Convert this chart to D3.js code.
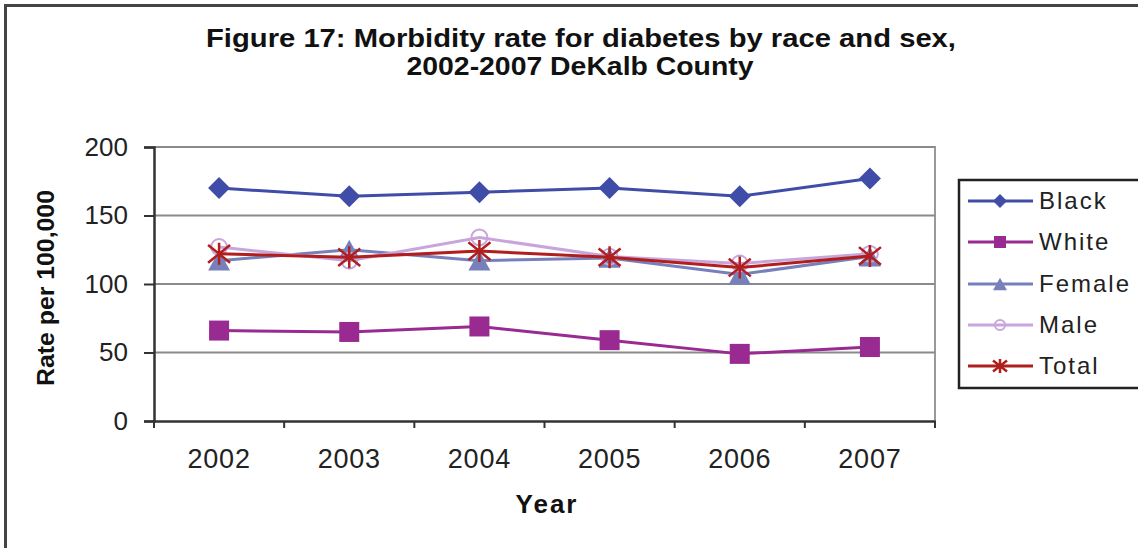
<!DOCTYPE html>
<html><head><meta charset="utf-8">
<script src="https://cdn.jsdelivr.net/npm/d3@7"></script>
<style>
html,body{margin:0;padding:0;background:#fff;}
svg{display:block;font-family:"Liberation Sans",Arial,sans-serif;}
</style></head>
<body>
<svg id="chart" width="1138" height="548"></svg>
<script>
const years = ["2002","2003","2004","2005","2006","2007"];
const black  = [170, 164, 167, 170, 164, 177];
const white  = [66, 65, 69, 59, 49, 54];
const female = [117, 125, 117, 119, 107, 120];
const male   = [127, 117, 134, 120, 115, 122];
const total  = [122, 119.5, 124, 119.5, 112, 120.5];
const yTicks = [0, 50, 100, 150, 200];
const titleLines = ["Figure 17: Morbidity rate for diabetes by race and sex,", "2002-2007 DeKalb County"];

const series = [
  {name:"Black",  values:black,  color:"#3f4ca8", marker:"diamond"},
  {name:"White",  values:white,  color:"#982a92", marker:"square"},
  {name:"Female", values:female, color:"#7880bb", marker:"triangle"},
  {name:"Male",   values:male,   color:"#c8a6dc", marker:"circle"},
  {name:"Total",  values:total,  color:"#b01e1e", marker:"star"}
];

const svg = d3.select("#chart");
const W = 1138, H = 548;

// outer border
svg.append("rect").attr("x",5.5).attr("y",5.5).attr("width",W+20).attr("height",H+20)
  .attr("fill","none").attr("stroke","#444").attr("stroke-width",3);

const plot = {l:154, r:935, t:147, b:421};
const x = d3.scaleBand().domain(years).range([plot.l, plot.r]);
const y = d3.scaleLinear().domain([0,200]).range([plot.b, plot.t]);

// plot area border (top & right)
svg.append("path")
  .attr("d", `M${plot.l},${plot.t}H${plot.r}V${plot.b}`)
  .attr("fill","none").attr("stroke","#999").attr("stroke-width",2);

// gridlines
svg.append("g").selectAll("line").data(yTicks.filter(d=>d>0)).join("line")
  .attr("x1",plot.l).attr("x2",plot.r)
  .attr("y1",d=>y(d)).attr("y2",d=>y(d))
  .attr("stroke","#8a8a8a").attr("stroke-width",2);

// y axis
const yAxis = svg.append("g").attr("transform",`translate(${plot.l},0)`)
  .call(d3.axisLeft(y).tickValues(yTicks).tickSize(10).tickPadding(16).tickFormat(d3.format("d")));
yAxis.select(".domain").attr("stroke","#333").attr("stroke-width",2.5);
yAxis.selectAll(".tick line").attr("stroke","#333").attr("stroke-width",2);
yAxis.selectAll("text").attr("font-size",26).attr("fill","#222")
  .attr("font-family","Liberation Sans, Arial, sans-serif");

// x axis
const xAxis = svg.append("g").attr("transform",`translate(0,${plot.b})`)
  .call(d3.axisBottom(x).tickSize(0).tickPadding(0));
xAxis.select(".domain").attr("stroke","#333").attr("stroke-width",2.5);
xAxis.selectAll("text").attr("font-size",27).attr("fill","#222").attr("letter-spacing",0.8)
  .attr("y",47).attr("dy",null)
  .attr("font-family","Liberation Sans, Arial, sans-serif");
// boundary ticks
const bounds = years.map(d=>x(d)).concat([plot.r]);
xAxis.append("g").selectAll("line").data(bounds).join("line")
  .attr("x1",d=>d).attr("x2",d=>d).attr("y1",0).attr("y2",7)
  .attr("stroke","#333").attr("stroke-width",2);

// axis titles
svg.append("text").attr("x",547).attr("y",513)
  .attr("text-anchor","middle").attr("font-size",26).attr("font-weight","bold")
  .attr("letter-spacing",2).attr("fill","#111").text("Year");
svg.append("text").attr("transform",`translate(54,288) rotate(-90)`)
  .attr("text-anchor","middle").attr("font-size",24).attr("font-weight","bold")
  .attr("fill","#111").attr("textLength",196).attr("lengthAdjust","spacingAndGlyphs").text("Rate per 100,000");

// title
svg.append("text").attr("x",581).attr("y",47).attr("text-anchor","middle")
  .attr("font-size",26).attr("font-weight","bold").attr("fill","#111")
  .attr("textLength",750).attr("lengthAdjust","spacingAndGlyphs").text(titleLines[0]);
svg.append("text").attr("x",580).attr("y",75).attr("text-anchor","middle")
  .attr("font-size",26).attr("font-weight","bold").attr("fill","#111")
  .attr("textLength",347).attr("lengthAdjust","spacingAndGlyphs").text(titleLines[1]);

function drawMarker(g, type, color, s){
  if(type==="diamond"){
    g.append("path").attr("d",`M0,${-s/2}L${s/2},0L0,${s/2}L${-s/2},0Z`).attr("fill",color);
  } else if(type==="square"){
    g.append("rect").attr("x",-s/2+1).attr("y",-s/2+1).attr("width",s-2).attr("height",s-2).attr("fill",color);
  } else if(type==="triangle"){
    const h = s*0.9;
    g.append("path").attr("d",`M0,${-h/2}L${s/2},${h/2}L${-s/2},${h/2}Z`).attr("fill",color);
  } else if(type==="circle"){
    g.append("circle").attr("r",s*0.36).attr("fill","none").attr("stroke",color).attr("stroke-width",2);
  } else if(type==="star"){
    const r = s/2;
    g.append("path").attr("d",`M${-r},${-r*0.8}L${r},${r*0.8}M${-r},${r*0.8}L${r},${-r*0.8}M0,${-r}V${r}`)
      .attr("stroke",color).attr("stroke-width",2.5).attr("fill","none");
  }
}

const line = d3.line().x((d,i)=>x(years[i])+x.bandwidth()/2).y(d=>y(d));

series.forEach(s=>{
  const g = svg.append("g");
  g.append("path").datum(s.values).attr("d",line)
    .attr("fill","none").attr("stroke",s.color).attr("stroke-width",3);
  s.values.forEach((v,i)=>{
    const mg = g.append("g").attr("transform",`translate(${x(years[i])+x.bandwidth()/2},${y(v)})`);
    drawMarker(mg, s.marker, s.color, 22);
  });
});

// legend
const lg = svg.append("g");
lg.append("rect").attr("x",959).attr("y",180).attr("width",200).attr("height",208)
  .attr("fill","#fff").attr("stroke","#222").attr("stroke-width",2.5);
const ly = [201, 242, 284, 325, 366];
series.forEach((s,i)=>{
  const g = lg.append("g").attr("transform",`translate(0,${ly[i]})`);
  g.append("line").attr("x1",968).attr("x2",1033).attr("y1",0).attr("y2",0)
    .attr("stroke",s.color).attr("stroke-width",3);
  const mg = g.append("g").attr("transform","translate(1000,0)");
  drawMarker(mg, s.marker, s.color, 14);
  g.append("text").attr("x",1039).attr("y",8)
    .attr("font-size",24).attr("fill","#222").attr("letter-spacing",2).text(s.name);
});
</script>
</body></html>
